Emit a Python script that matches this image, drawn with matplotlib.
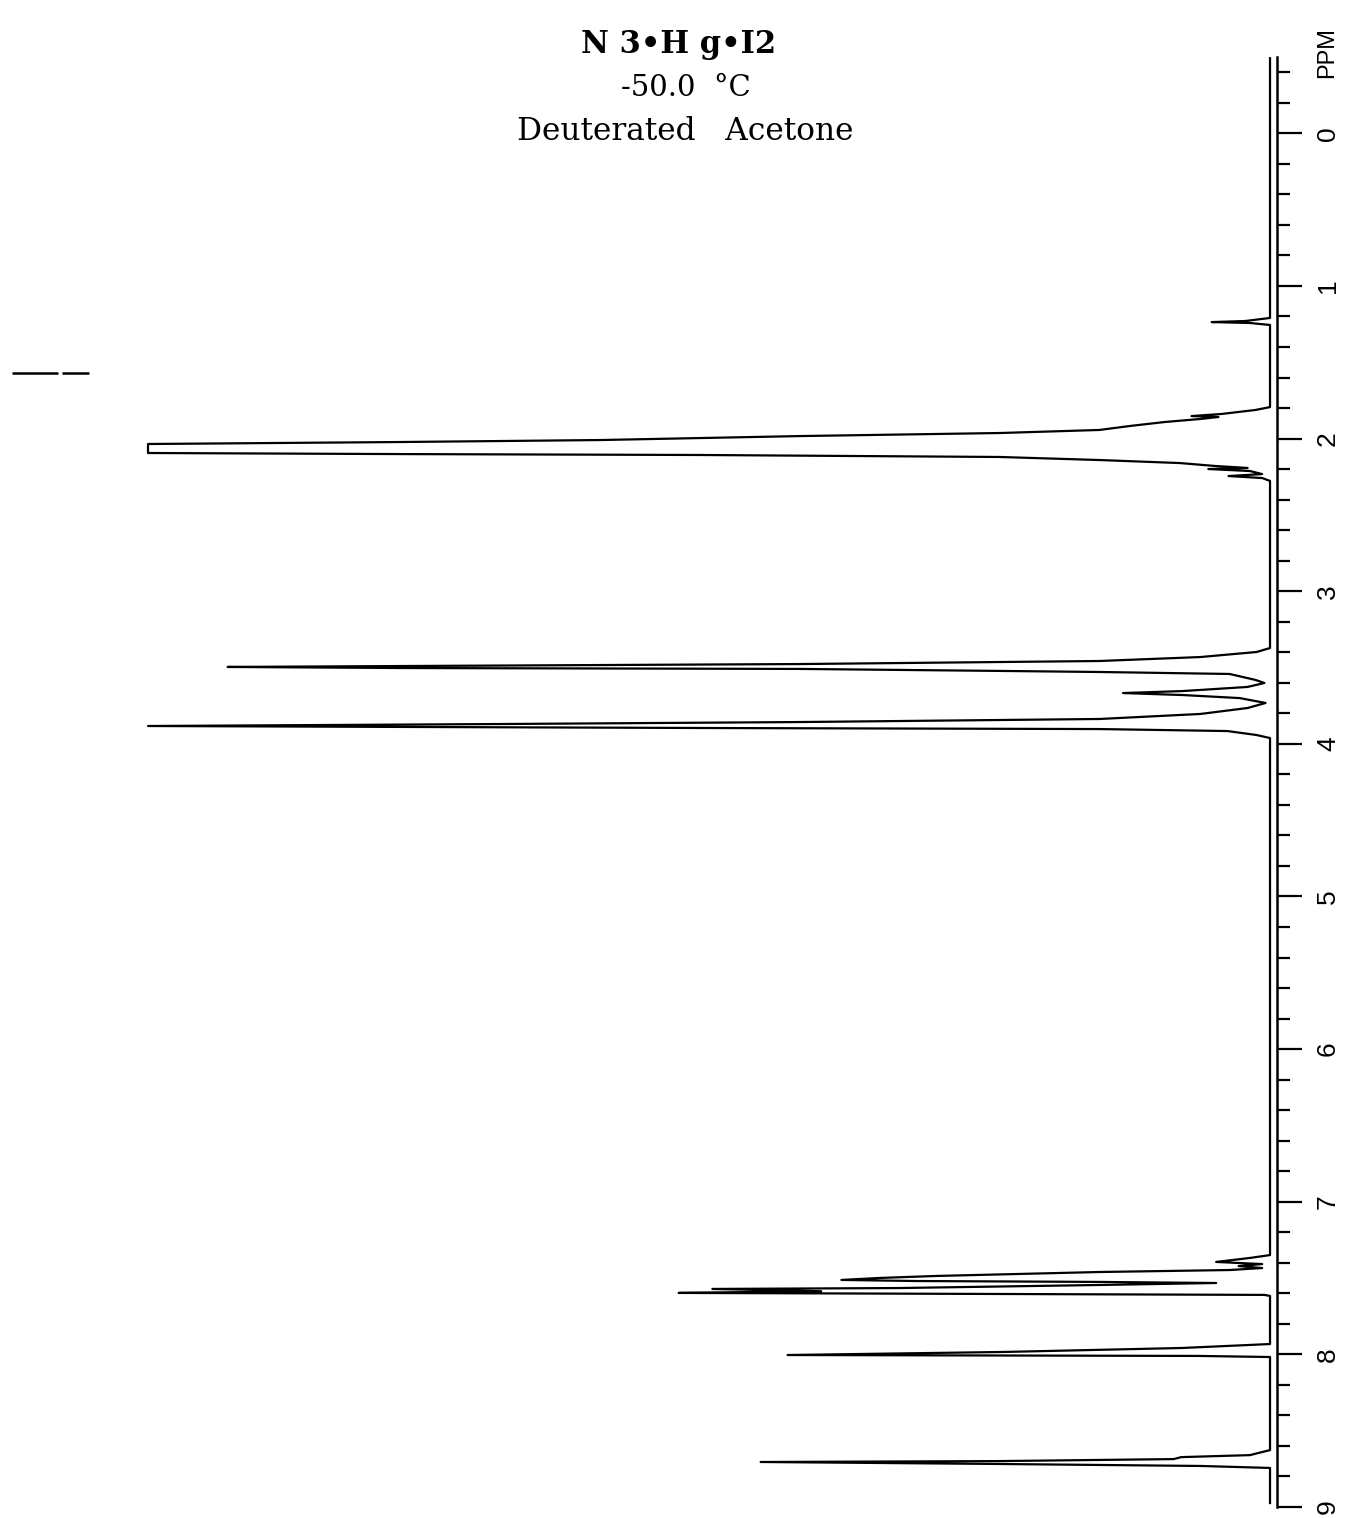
'''
1H NMR trace of N3-HgI2 in acetone-d6 at -50 C, drawn sideways
'''

import numpy as np
import matplotlib.pyplot as plt
from matplotlib.ticker import MultipleLocator

# trace: chemical shift (ppm) and intensity (% of clipped peak)
trace_ppm = [
    -0.49, 1.212, 1.232, 1.239, 1.245, 1.258,
    1.796, 1.815, 1.841, 1.855, 1.861, 1.874, 1.894, 1.920, 1.946, 1.966, 1.986,
    2.012, 2.025, 2.038, 2.097, 2.104, 2.110, 2.123, 2.143, 2.163, 2.182, 2.195,
    2.202, 2.215, 2.235, 2.248, 2.261, 2.280,
    3.375, 3.401, 3.434, 3.460, 3.480, 3.493, 3.499, 3.506, 3.512, 3.525, 3.532,
    3.545, 3.584, 3.604, 3.630, 3.657, 3.670, 3.683, 3.703, 3.735, 3.768, 3.807,
    3.840, 3.860, 3.873, 3.886, 3.892, 3.899, 3.906, 3.919, 3.945, 3.965,
    7.353, 7.372, 7.398, 7.412, 7.425, 7.438, 7.451, 7.464, 7.490, 7.503, 7.516,
    7.523, 7.529, 7.536, 7.549, 7.569, 7.575, 7.590, 7.601, 7.608, 7.614, 7.621,
    7.936, 7.962, 7.988, 8.008, 8.014, 8.021,
    8.631, 8.664, 8.677, 8.690, 8.703, 8.709, 8.722, 8.735, 8.748, 8.978,
]
trace_int = [
    0.0, 0.0, 2.2, 5.2, 1.8, 0.0,
    0.0, 1.3, 4.3, 7.0, 4.6, 6.2, 9.4, 12.5, 15.2, 24.1, 41.9,
    59.7, 77.5, 100.0, 100.0, 77.5, 50.8, 24.1, 15.2, 8.0, 4.9, 2.0,
    5.5, 1.8, 0.7, 3.7, 0.7, 0.0,
    0.0, 1.2, 6.2, 15.2, 41.9, 77.5, 92.9, 77.5, 41.9, 24.1, 15.2,
    3.6, 1.3, 0.5, 2.0, 7.8, 13.1, 7.8, 2.7, 0.4, 2.0, 6.2,
    15.2, 41.9, 68.6, 100.0, 77.5, 50.8, 15.2, 3.8, 1.2, 0.0,
    0.0, 1.8, 4.8, 0.7, 2.8, 0.7, 3.6, 15.2, 29.8, 34.8, 38.2,
    31.6, 15.2, 4.8, 15.2, 33.0, 49.7, 40.0, 52.7, 24.1, 0.5, 0.0,
    0.0, 7.9, 23.8, 43.0, 6.4, 0.0,
    0.0, 1.8, 7.9, 8.6, 24.1, 45.4, 24.1, 6.2, 0.0, 0.0,
]

major_ticks = list(range(0, 10))
tick_labels = [str(v) for v in major_ticks]

title = "N 3•H g•I2"
temperature = "-50.0  °C"
solvent = "Deuterated   Acetone"

# reference bar at left edge of the paper (two pieces with a small gap)
ref_ppm = 1.573
ref_left = [112.1, 108.0]
ref_right = [107.7, 105.3]

fig = plt.figure(figsize=(13.47, 15.18), dpi=100)

ax = fig.add_axes([0, 0, 1, 1])
ax.plot(trace_int, trace_ppm, color="black", lw=1.6, solid_joinstyle="round")
ax.plot(ref_left, [ref_ppm, ref_ppm], color="black", lw=1.8, solid_capstyle="butt")
ax.plot(ref_right, [ref_ppm, ref_ppm], color="black", lw=1.8, solid_capstyle="butt")
ax.set_xlim(113.19, -6.86)
ax.set_ylim(9.076, -0.8716)
ax.axis("off")

# ppm scale on the right
sax = fig.add_axes([1277 / 1347, 11 / 1518, 0.0, 1450 / 1518])
sax.set_ylim(9.0, -0.5)
sax.set_xticks([])
for s in ["left", "top", "bottom"]:
    sax.spines[s].set_visible(False)
sax.spines["right"].set_linewidth(1.8)
sax.yaxis.tick_right()
sax.set_yticks(major_ticks)
sax.set_yticklabels(tick_labels, rotation=90, fontsize=19,
                    family="Liberation Sans", va="center")
sax.yaxis.set_minor_locator(MultipleLocator(0.2))
sax.tick_params(axis="y", which="major", direction="out", length=18, width=1.6, pad=10)
sax.tick_params(axis="y", which="minor", direction="out", length=9, width=1.6)

fig.text(1327 / 1347, 1 - 52 / 1518, "PPM", rotation=90, ha="center", va="center",
         fontsize=17, family="Liberation Sans")

fig.text(679 / 1347, 1 - 45 / 1518, title, ha="center", va="center",
         fontsize=22, family="DejaVu Serif", weight="bold")
fig.text(686 / 1347, 1 - 88 / 1518, temperature, ha="center", va="center",
         fontsize=21, family="DejaVu Serif")
fig.text(685 / 1347, 1 - 132 / 1518, solvent, ha="center", va="center",
         fontsize=22.5, family="DejaVu Serif")

fig.savefig("out.png", dpi=100)
plt.close(fig)
